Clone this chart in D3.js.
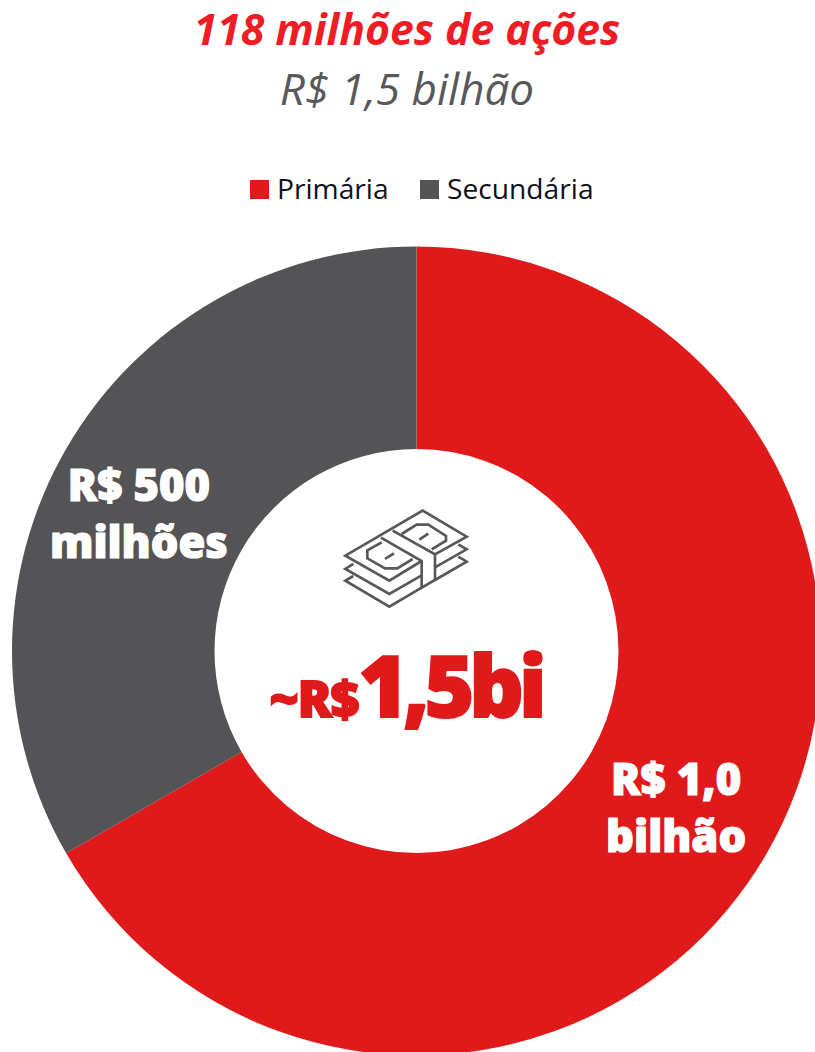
<!DOCTYPE html>
<html>
<head>
<meta charset="utf-8">
<script src="https://cdn.jsdelivr.net/npm/d3@7"></script>
<style>
  html, body { margin: 0; padding: 0; background: #fff; }
  svg { display: block; }
  text { font-family: "Open Sans", "Noto Sans", sans-serif; }
  .heavy { font-family: "Noto Sans", "Open Sans", sans-serif; font-weight: 900; }
</style>
</head>
<body>
<svg id="chart" width="815" height="1052"></svg>
<script>
const categories = ["Primária", "Secundária"];
const values = [1000, 500];
const sliceLabels = [["R$ 1,0", "bilhão"], ["R$ 500", "milhões"]];
const colors = ["#e01a1b", "#545456"];

const width = 815, height = 1052;
const cx = 416.5, cy = 651, outer = 404.5, inner = 202;

const svg = d3.select("#chart");

// titles
svg.append("text")
  .attr("x", 407).attr("y", 45)
  .attr("text-anchor", "middle")
  .attr("font-size", 42.7).attr("font-weight", 700).attr("font-style", "italic")
  .attr("fill", "#ee1c25")
  .text("118 milhões de ações");
svg.append("text")
  .attr("x", 407).attr("y", 105)
  .attr("text-anchor", "middle")
  .attr("font-size", 44).attr("font-style", "italic")
  .attr("fill", "#58585a")
  .text("R$ 1,5 bilhão");

// legend
const legendX = d3.scaleOrdinal().domain(categories).range([250, 420]);
const legend = svg.append("g").selectAll("g")
  .data(categories)
  .enter().append("g")
  .attr("transform", d => "translate(" + legendX(d) + ",180)");
legend.append("rect")
  .attr("width", 19).attr("height", 19)
  .attr("fill", (d, i) => colors[i]);
legend.append("text")
  .attr("x", 27)
  .attr("y", 19)
  .attr("font-size", 28.2)
  .attr("fill", "#0d1020")
  .text(d => d);

// donut
const pie = d3.pie().sort(null).value(d => d);
const arc = d3.arc().innerRadius(inner).outerRadius(outer);
const slices = pie(values);

const donut = svg.append("g").attr("transform", "translate(" + cx + "," + cy + ")");
donut.selectAll("path")
  .data(slices)
  .enter().append("path")
  .attr("d", arc)
  .attr("fill", (d, i) => colors[i]);

// slice labels
const labelOffset = [[-3, -8], [-15, 2]];
const labels = donut.selectAll("text.slice")
  .data(slices)
  .enter().append("text")
  .attr("class", "slice heavy")
  .attr("text-anchor", "middle")
  .attr("font-size", 43.5)
  .attr("fill", "#fff")
  .attr("stroke", "#fff").attr("stroke-width", 1.2)
  .attr("transform", (d, i) => {
    const c = arc.centroid(d);
    return "translate(" + (c[0] + labelOffset[i][0]) + "," + (c[1] + labelOffset[i][1]) + ")";
  });
labels.selectAll("tspan")
  .data((d, i) => sliceLabels[i])
  .enter().append("tspan")
  .attr("x", 0)
  .attr("y", (d, i) => i * 57)
  .text(d => d);

// centre total
const total = svg.append("text")
  .attr("class", "heavy")
  .attr("x", 405.5).attr("y", 717)
  .attr("text-anchor", "middle")
  .attr("fill", "#e01a1b")
  .attr("stroke", "#e01a1b").attr("stroke-width", 2);
total.append("tspan").attr("font-size", 50).attr("letter-spacing", -1).text("~R$");
total.append("tspan").attr("font-size", 85).attr("letter-spacing", -5).text("1,5bi");

// banknote icon, traced at 3x
const icon = svg.append("g")
  .attr("transform", "translate(320,490) scale(0.3333)")
  .attr("fill", "none")
  .attr("stroke", "#58585a")
  .attr("stroke-width", 8);
const iconPaths = [
  "M305 213 L208 272 L76 197 L308 62 L440 140 L345 193",
  "M100 222 L76 237 L208 312 L305 256",
  "M100 258 L76 272 L208 350 L305 293",
  "M415 163 L440 178 L345 232",
  "M415 200 L440 215 L345 270",
  "M183 143 L305 213 L305 293 L345 270 L345 193 L218 122",
  "M278 207 L232 235 L195 235 L142 205 L142 181 L185 157",
  "M245 132 L290 104 L325 104 L378 138 L378 152 L335 178",
  "M195 207 L222 190",
  "M298 149 L325 131"
];
icon.selectAll("path").data(iconPaths).enter().append("path").attr("d", d => d);
</script>
</body>
</html>
